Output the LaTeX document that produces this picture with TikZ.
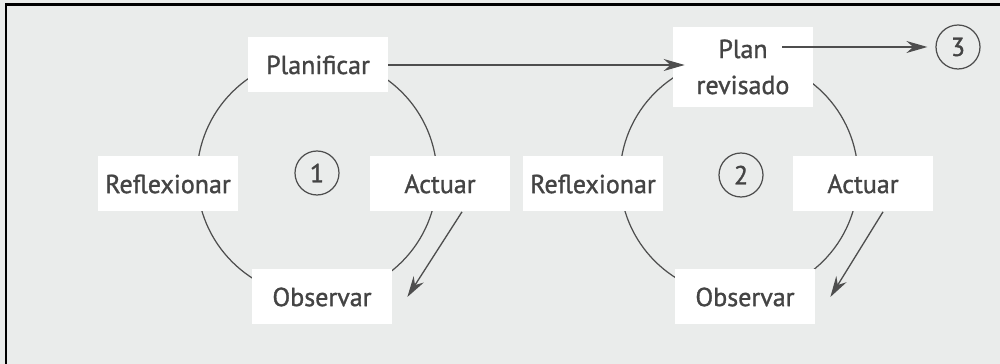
\documentclass[tikz,border=0pt]{standalone}
\usepackage{fontspec}
\setmainfont{PT Sans}
\newfontfamily\stagefont{PT Sans}[RawFeature={embolden=1.2}]
\usetikzlibrary{arrows.meta}
\definecolor{paper}{RGB}{234,236,235}
\definecolor{ink}{RGB}{78,78,78}
\definecolor{txt}{RGB}{68,68,68}
\begin{document}
\begin{tikzpicture}[
    stage/.style={fill=white, text=txt, font=\stagefont\fontsize{14.8}{20.5}\selectfont, align=center,
                  minimum width=2.8cm, minimum height=1.1cm, inner sep=0pt},
    num/.style={circle, draw=ink, line width=0.7pt, text=txt, minimum size=0.88cm,
                inner sep=0pt, font=\stagefont\fontsize{14.8}{16}\selectfont},
    cycle/.style={draw=ink, line width=0.7pt},
    arr/.style={draw=ink, line width=0.75pt, -{Stealth[length=4.2mm,width=2.4mm]}},
  ]
    \useasboundingbox (0cm,0cm) rectangle (20cm,7.28cm);
    \fill[paper] (0cm,0cm) rectangle (20cm,7.28cm);
    \draw[line width=1.7pt] (0.12cm,0cm) -- (0.12cm,7.18cm) -- (20cm,7.18cm);

    \coordinate (cenA) at (6.34cm,3.74cm);
    \coordinate (cenB) at (14.78cm,3.74cm);
    \draw[cycle] (cenA) circle (2.4cm);
    \draw[cycle] (cenB) circle (2.38cm);

    \node[stage] (planA)  at (6.36cm,5.98cm)  {Planificar};
    \node[stage] (reflA)  at (3.36cm,3.6cm)   {Reflexionar};
    \node[stage] (actA)   at (8.8cm,3.6cm)    {Actuar};
    \node[stage] (obsA)   at (6.44cm,1.34cm)  {Observar};
    \node[num]   (numA)   at (6.34cm,3.82cm)  {1};

    \node[stage, minimum height=1.6cm] (planB) at (14.86cm,5.94cm) {Plan\\revisado};
    \node[stage] (reflB)  at (11.86cm,3.6cm)  {Reflexionar};
    \node[stage] (actB)   at (17.26cm,3.6cm)  {Actuar};
    \node[stage] (obsB)   at (14.9cm,1.34cm)  {Observar};
    \node[num]   (numB)   at (14.82cm,3.78cm) {2};
    \node[num]   (numC)   at (19.16cm,6.34cm) {3};

    \coordinate (planBout) at ([shift={(0.78cm,0.4cm)}]planB.center);
    \coordinate (actAout)  at ([xshift=0.44cm]actA.south);
    \coordinate (obsAin)   at ([xshift=0.3cm]obsA.east);
    \coordinate (actBout)  at ([xshift=0.4cm]actB.south);
    \coordinate (obsBin)   at ([xshift=0.3cm]obsB.east);

    \path[arr, shorten >=-0.24cm] (planA.east) -- (planA.east -| planB.west);
    \path[arr, shorten >=0.16cm] (planBout) -- (planBout -| numC.west);
    \path[arr] (actAout) -- (obsAin);
    \path[arr] (actBout) -- (obsBin);
\end{tikzpicture}
\end{document}
